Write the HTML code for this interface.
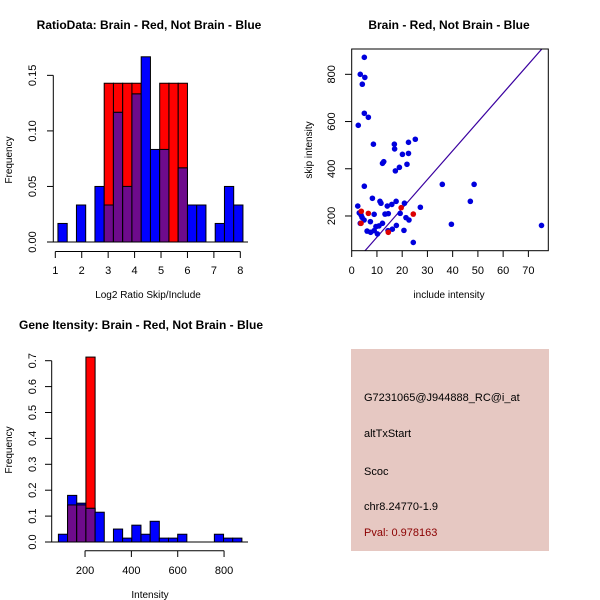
<!DOCTYPE html>
<html><head><meta charset="utf-8"><style>
body{margin:0;background:#fff}
svg{display:block;font-family:"Liberation Sans",sans-serif}
</style></head><body>
<svg id="s" width="600" height="600" xmlns="http://www.w3.org/2000/svg">
<rect width="600" height="600" fill="#fff"/>
<g id="g1"></g>
<g id="g2"></g>
<g id="g3"></g>
<g>
<rect x="351" y="349" width="198" height="202" fill="#e6c8c2"/>
<text x="364" y="401" font-size="11">G7231065@J944888_RC@i_at</text>
<text x="364" y="437" font-size="11">altTxStart</text>
<text x="364" y="475" font-size="11">Scoc</text>
<text x="364" y="510" font-size="11">chr8.24770-1.9</text>
<text x="364" y="536" font-size="11" fill="#8b0000">Pval: 0.978163</text>
</g>
</svg>
<script>
// ---- Chart 1 data
const ratioEdgeStart = 1.1;
const ratioBinWidth = 0.35;
const ratioBlue = [0.0167,0,0.0333,0,0.05,0.0333,0.1167,0.05,0.1333,0.1667,0.0833,0.0833,0,0.0667,0.0333,0.0333,0,0.0167,0.05,0.0333];
const ratioRed  = [0,0,0,0,0,0.1429,0.1429,0.1429,0.1429,0,0,0.1429,0.1429,0.1429,0,0,0,0,0,0];
const ratioXTicks = [1,2,3,4,5,6,7,8];
const ratioYTicks = ["0.00","0.05","0.10","0.15"];
// ---- Chart 2 data
const blueX = [5.0,3.4,5.2,4.2,5.0,6.6,2.6,8.6,16.9,22.5,25.2,17.0,12.7,12.2,20.1,22.5,18.9,17.3,21.9,35.9,48.5,5.0,8.2,47,11.2,17.6,2.4,11.6,14.1,15.9,20.9,27.2,3.0,3.7,8.9,13.2,14.5,19.2,4.1,4.9,7.4,3.4,21.5,22.7,12.2,10.8,9.6,17.7,39.5,75.2,6.1,7.5,8.9,14.4,16.1,10.2,20.7,24.4];
const blueY = [872,800,787,758,635,618,584,504,504,512,525,484,430,423,461,465,406,391,419,334,334,326,275,262,262,262,242,254,242,249,254,237,213,204,207,208,210,211,194,183,176,169,193,183,169,158,155,160,165,160,136,131,138,138,144,124,139,88];
const redX = [3.8,6.6,19.6,24.4,14.5,3.7];
const redY = [220,211,235,208,131,169];
const fitLine = [12.2,-11.7];
const scatXTicks = [0,10,20,30,40,50,60,70];
const scatYTicks = [200,400,600,800];
// ---- Chart 3 data
const intEdgeStart = 85;
const intBinWidth = 39.6;
const intBlue = [0.03,0.18,0.15,0.13,0.115,0,0.05,0.015,0.065,0.03,0.08,0.015,0.015,0.03,0,0,0,0.03,0.015,0.015];
const intRed  = [0,0.143,0.143,0.714,0,0,0,0,0,0,0,0,0,0,0,0,0,0,0,0];
const intXTicks = [200,400,600,800];
const intYTicks = ["0.0","0.1","0.2","0.3","0.4","0.5","0.6","0.7"];

const NS="http://www.w3.org/2000/svg";
function mk(p,t,a){const e=document.createElementNS(NS,t);for(const k in a)e.setAttribute(k,a[k]);p.appendChild(e);return e;}
const PURPLE="#6e0b8c";

function hist(g,cfg){
  const {x,y,start,w,blue,red}=cfg;
  for(let i=0;i<blue.length;i++){
    const x0=x(start+i*w),x1=x(start+(i+1)*w);
    const r=red[i],b=blue[i],m=Math.min(r,b);
    if(r>0){const e=mk(g,'rect',{x:x0,y:y(r),width:x1-x0,height:y(0)-y(r),fill:'#ff0000',stroke:'#000','stroke-width':1});
      
      }
    if(b>0){const e=mk(g,'rect',{x:x0,y:y(b),width:x1-x0,height:y(0)-y(b),fill:'#0000ff',stroke:'#000','stroke-width':1});
      
      }
    if(m>0){const e=mk(g,'rect',{x:x0,y:y(m),width:x1-x0,height:y(0)-y(m),fill:PURPLE,stroke:'#000','stroke-width':1});
      
      }
  }
}
function txt(g,x,y,s,o){const e=mk(g,'text',Object.assign({x:x,y:y,'font-size':11,'text-anchor':'middle'},o||{}));e.textContent=s;return e;}

// Chart 1
(function(){
  const g=document.getElementById('g1');
  const x=v=>55.3+(v-1)*26.43, y=v=>242-v*1111;
  hist(g,{x,y,start:ratioEdgeStart,w:ratioBinWidth,blue:ratioBlue,red:ratioRed});
  mk(g,'line',{x1:48,x2:248,y1:242,y2:242,stroke:'#000'});
  mk(g,'line',{x1:x(1),x2:x(8),y1:251.5,y2:251.5,stroke:'#000'});
  ratioXTicks.forEach(t=>{mk(g,'line',{x1:x(t),x2:x(t),y1:251.5,y2:258,stroke:'#000'});
    const e=txt(g,x(t),274,String(t));});
  mk(g,'line',{x1:53.3,x2:53.3,y1:y(0),y2:y(0.15),stroke:'#000'});
  ratioYTicks.forEach(t=>{const v=+t;mk(g,'line',{x1:47,x2:53.3,y1:y(v),y2:y(v),stroke:'#000'});
    const e=txt(g,36,y(v),t,{transform:`rotate(-90 36 ${y(v)})`});});
  let e=txt(g,12,160,'Frequency',{'font-size':10,transform:'rotate(-90 12 160)'});
  e=txt(g,148,298,'Log2 Ratio Skip/Include',{'font-size':10});
  e=txt(g,149,29,'RatioData: Brain - Red, Not Brain - Blue',{'font-weight':'bold','font-size':12});
})();

// Chart 2
(function(){
  const g=document.getElementById('g2');
  const x=v=>351.7+v*2.524, y=v=>263.2-v*0.2361;
  mk(g,'defs',{}).innerHTML='<clipPath id="cp"><rect x="352" y="49" width="196" height="202"/></clipPath>';
  const lx0=(50-fitLine[1])/fitLine[0], lx1=80;
  mk(g,'line',{x1:x(lx0),y1:y(fitLine[0]*lx0+fitLine[1]),x2:x(lx1),y2:y(fitLine[0]*lx1+fitLine[1]),stroke:'#3a00a0','stroke-width':1.2,'clip-path':'url(#cp)'});
  blueX.forEach((v,i)=>{const c=mk(g,'circle',{cx:x(v),cy:y(blueY[i]),r:2.8,fill:'#0000dd'});
    
    });
  redX.forEach((v,i)=>{const c=mk(g,'circle',{cx:x(v),cy:y(redY[i]),r:2.8,fill:'#dd0000'});
    
    });
  mk(g,'rect',{x:351.7,y:49,width:196.6,height:201.7,fill:'none',stroke:'#000'});
  scatXTicks.forEach(t=>{mk(g,'line',{x1:x(t),x2:x(t),y1:250.7,y2:257,stroke:'#000'});
    const e=txt(g,x(t),274,String(t));});
  scatYTicks.forEach(t=>{mk(g,'line',{x1:345,x2:351.7,y1:y(t),y2:y(t),stroke:'#000'});
    const e=txt(g,335,y(t),String(t),{transform:`rotate(-90 335 ${y(t)})`});});
  let e=txt(g,312,150,'skip intensity',{'font-size':10,transform:'rotate(-90 312 150)'});
  e=txt(g,449,298,'include intensity',{'font-size':10});
  e=txt(g,449,29,'Brain - Red, Not Brain - Blue',{'font-weight':'bold','font-size':12});
})();

// Chart 3
(function(){
  const g=document.getElementById('g3');
  const x=v=>38.7+v*0.2317, y=v=>542-v*259;
  hist(g,{x,y,start:intEdgeStart,w:intBinWidth,blue:intBlue,red:intRed});
  mk(g,'line',{x1:48,x2:248,y1:542,y2:542,stroke:'#000'});
  mk(g,'line',{x1:x(200),x2:x(800),y1:550.7,y2:550.7,stroke:'#000'});
  intXTicks.forEach(t=>{mk(g,'line',{x1:x(t),x2:x(t),y1:550.7,y2:557,stroke:'#000'});
    const e=txt(g,x(t),574,String(t));});
  mk(g,'line',{x1:51.7,x2:51.7,y1:y(0),y2:y(0.7),stroke:'#000'});
  intYTicks.forEach(t=>{const v=+t;mk(g,'line',{x1:45,x2:51.7,y1:y(v),y2:y(v),stroke:'#000'});
    const e=txt(g,36,y(v),t,{transform:`rotate(-90 36 ${y(v)})`});});
  let e=txt(g,12,450,'Frequency',{'font-size':10,transform:'rotate(-90 12 450)'});
  e=txt(g,150,598,'Intensity',{'font-size':10});
  e=txt(g,141,329,'Gene Itensity: Brain - Red, Not Brain - Blue',{'font-weight':'bold','font-size':12});
})();
</script>
</body></html>
